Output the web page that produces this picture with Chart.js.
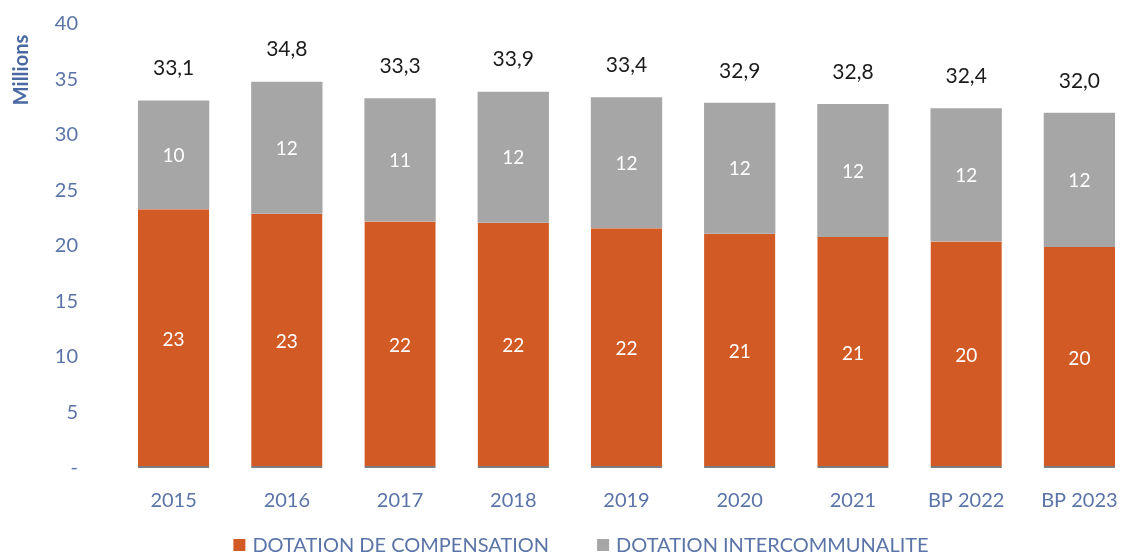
<!DOCTYPE html>
<html>
<head>
<meta charset="utf-8">
<script src="https://cdn.jsdelivr.net/npm/chart.js@4"></script>
<style>
  html, body { margin: 0; padding: 0; background: #fff; }
  #wrap { width: 1136px; height: 554px; }
</style>
</head>
<body>
<div id="wrap"><canvas id="dotations-chart"></canvas></div>
<script>
// ------------------ DATA -------------------//
const categories = ["2015", "2016", "2017", "2018", "2019", "2020", "2021", "BP 2022", "BP 2023"];
const compensation = [23.3, 22.9, 22.2, 22.1, 21.6, 21.1, 20.8, 20.4, 19.9];
const intercommunalite = [9.8, 11.9, 11.1, 11.8, 11.8, 11.8, 12.0, 12.0, 12.1];
const yTicks = [0, 5, 10, 15, 20, 25, 30, 35, 40];
const seriesNames = ["DOTATION DE COMPENSATION", "DOTATION INTERCOMMUNALITE"];

const ORANGE = '#D25A24';
const GREY = '#A6A6A7';
const AXIS_BLUE = '#5A74A8';
const FONT = 'Lato, "Open Sans", sans-serif';

// ------------------ Labels, title and legend drawn by hand -------------------//
const extrasPlugin = {
    id: 'extras',
    beforeDraw(chart) {
        const ctx = chart.ctx;
        ctx.save();
        ctx.fillStyle = '#fff';
        ctx.fillRect(0, 0, chart.width, chart.height);
        ctx.restore();
    },
    afterDatasetsDraw(chart) {
        const ctx = chart.ctx;
        ctx.save();
        ctx.textAlign = 'center';
        ctx.textBaseline = 'middle';

        // values inside each segment
        ctx.font = '19px ' + FONT;
        chart.data.datasets.forEach((ds, i) => {
            chart.getDatasetMeta(i).data.forEach((bar, j) => {
                ctx.fillStyle = '#ffffff';
                ctx.fillText(Math.round(ds.data[j]), bar.x, (bar.y + bar.base) / 2 + 1);
            });
        });

        // totals above the bars
        ctx.font = '21px ' + FONT;
        ctx.fillStyle = '#1b1b1b';
        chart.getDatasetMeta(1).data.forEach((bar, j) => {
            const total = (compensation[j] + intercommunalite[j]).toFixed(1).replace('.', ',');
            ctx.fillText(total, bar.x, bar.y - 32);
        });

        // y axis title, sitting near the top like the original
        ctx.save();
        ctx.translate(22, 70);
        ctx.rotate(-Math.PI / 2);
        ctx.font = 'bold 20px ' + FONT;
        ctx.fillStyle = '#4A69A2';
        ctx.fillText('Millions', 0, 0);
        ctx.restore();

        // legend
        ctx.font = '20px ' + FONT;
        ctx.textAlign = 'left';
        const box = 12, boxGap = 7, itemGap = 48, legendY = 545;
        const widths = seriesNames.map(n => ctx.measureText(n).width);
        const fullWidth = widths.reduce((a, w) => a + box + boxGap + w, 0) + itemGap;
        let x = 581 - fullWidth / 2;
        chart.data.datasets.forEach((ds, i) => {
            ctx.fillStyle = ds.backgroundColor;
            ctx.fillRect(x, legendY - box / 2, box, box);
            ctx.fillStyle = AXIS_BLUE;
            ctx.fillText(seriesNames[i], x + box + boxGap, legendY + 1);
            x += box + boxGap + widths[i] + itemGap;
        });
        ctx.restore();
    }
};

// ------------------ Stacked bar chart -------------------//
const canvas = document.getElementById('dotations-chart');
const chartData = {
    labels: categories,
    datasets: [{
        label: seriesNames[0],
        data: compensation,
        backgroundColor: ORANGE,
        borderColor: '#7d7d7d',
        borderWidth: { top: 0, left: 0, right: 0, bottom: 2 },
        borderSkipped: false
    }, {
        label: seriesNames[1],
        data: intercommunalite,
        backgroundColor: GREY,
        borderWidth: 0
    }]
};

const chartOptions = {
    responsive: true,
    maintainAspectRatio: false,
    animation: false,
    layout: {
        padding: { top: 24, left: 0, right: 0, bottom: 0 }
    },
    datasets: {
        bar: {
            categoryPercentage: 1,
            barPercentage: 0.63
        }
    },
    scales: {
        x: {
            stacked: true,
            grid: { display: false, drawTicks: false },
            border: { display: false },
            ticks: {
                color: AXIS_BLUE,
                font: { family: FONT, size: 20 },
                padding: 21,
                maxRotation: 0,
                autoSkip: false
            },
            afterFit(scale) {
                scale.height = 86;
                scale.paddingLeft = 0;
                scale.paddingRight = 0;
            }
        },
        y: {
            stacked: true,
            min: 0,
            max: 40,
            afterBuildTicks(scale) {
                scale.ticks = yTicks.map(v => ({ value: v }));
            },
            grid: { display: false, drawTicks: false },
            border: { display: false },
            ticks: {
                color: AXIS_BLUE,
                font: { family: FONT, size: 20 },
                padding: 39,
                callback: v => v === 0 ? '-' : v
            },
            // the tick padding also ends up above/below the axis, drop it there
            afterFit(scale) {
                scale.width = 117;
                scale.paddingTop = 0;
                scale.paddingBottom = 0;
            }
        }
    },
    plugins: {
        legend: { display: false },
        tooltip: { enabled: false }
    }
};

let dotationsChart = new Chart(canvas, {
    type: 'bar',
    data: chartData,
    options: chartOptions,
    plugins: [extrasPlugin]
});
</script>
</body>
</html>
